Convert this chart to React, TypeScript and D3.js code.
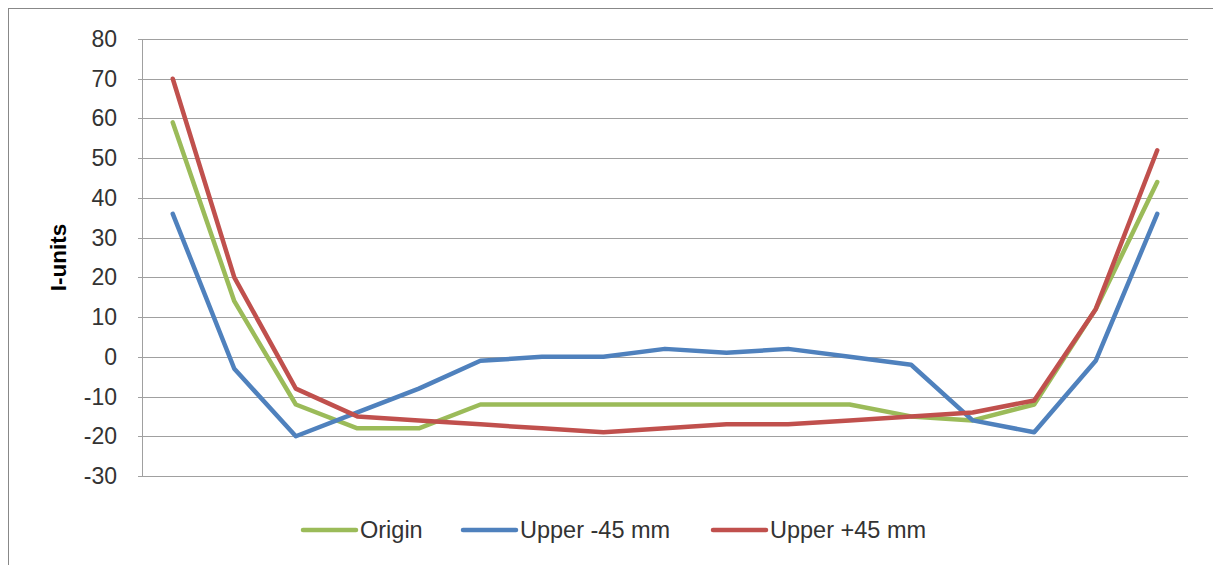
import React from "react";
import * as d3 from "d3";

const categories = ["1","2","3","4","5","6","7","8","9","10","11","12","13","14","15","16","17"];
const originValues = [59, 14, -12, -18, -18, -12, -12, -12, -12, -12, -12, -12, -15, -16, -12, 12, 44];
const upperMinus45 = [36, -3, -20, -14, -8, -1, 0, 0, 2, 1, 2, 0, -2, -16, -19, -1, 36];
const upperPlus45 = [70, 20, -8, -15, -16, -17, -18, -19, -18, -17, -17, -16, -15, -14, -11, 12, 52];
const yTicks = [80, 70, 60, 50, 40, 30, 20, 10, 0, -10, -20, -30];
const seriesNames = ["Origin", "Upper -45 mm", "Upper +45 mm"];
const seriesColors = ["#9BBB59", "#4F81BD", "#C0504D"];

const W = 1213;
const H = 565;
const left = 142;
const right = 1188;
const top = 39;
const bottom = 476;
const FONT = "'Liberation Sans', Arial, sans-serif";

export default function App() {
  const x = d3.scaleBand<string>().domain(categories).range([left, right]);
  const y = d3.scaleLinear().domain([-30, 80]).range([bottom, top]);
  const line = d3
    .line<number>()
    .x((_, i) => (x(categories[i]) as number) + x.bandwidth() / 2)
    .y((d) => y(d));
  const series = [originValues, upperMinus45, upperPlus45];
  const legendPos = [
    { x1: 303, x2: 356, tx: 360 },
    { x1: 463, x2: 516, tx: 520 },
    { x1: 713, x2: 766, tx: 770 },
  ];
  return (
    <svg
      width={W}
      height={H}
      style={{ position: "absolute", left: 0, top: 0, background: "#fff" }}
    >
      <rect x={8.5} y={8.5} width={W + 20} height={H + 20} fill="#fff" stroke="#888" strokeWidth={1} />
      {yTicks.map((t) => (
        <line key={"g" + t} x1={left - 4} x2={right} y1={Math.round(y(t)) + 0.5} y2={Math.round(y(t)) + 0.5} stroke="#a0a0a0" strokeWidth={1} />
      ))}
      <line x1={left + 0.5} x2={left + 0.5} y1={top} y2={bottom + 1} stroke="#a0a0a0" strokeWidth={1} />
      {yTicks.map((t) => (
        <text key={"t" + t} x={117} y={y(t)} textAnchor="end" dominantBaseline="central" fontFamily={FONT} fontSize={23} fill="#333">
          {t}
        </text>
      ))}
      <text
        transform={`translate(58, ${(top + bottom) / 2}) rotate(-90)`}
        textAnchor="middle"
        dominantBaseline="central"
        fontFamily={FONT}
        fontWeight="bold"
        fontSize={22.5}
        fill="#000"
      >
        I-units
      </text>
      {series.map((s, i) => (
        <path key={"s" + i} d={line(s) as string} fill="none" stroke={seriesColors[i]} strokeWidth={4.5} strokeLinejoin="round" strokeLinecap="round" />
      ))}
      {seriesNames.map((n, i) => (
        <g key={"l" + i}>
          <line x1={legendPos[i].x1} x2={legendPos[i].x2} y1={530} y2={530} stroke={seriesColors[i]} strokeWidth={4.5} strokeLinecap="round" />
          <text x={legendPos[i].tx} y={530} dominantBaseline="central" fontFamily={FONT} fontSize={23.5} fill="#333">
            {n}
          </text>
        </g>
      ))}
    </svg>
  );
}
